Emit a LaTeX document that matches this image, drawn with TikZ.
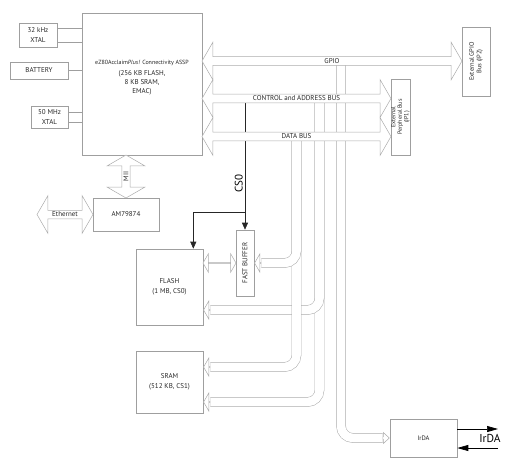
\documentclass[tikz,border=0pt]{standalone}
\usepackage{fontspec}
\setmainfont{PT Sans}
\usetikzlibrary{shapes.arrows,arrows.meta,positioning}

\begin{document}
\begin{tikzpicture}[x=1pt,y=-1pt,
  box/.style={draw=gray!75,line width=0.6pt,align=center,inner sep=0pt,
    text=black!85,font=\fontsize{7}{10}\selectfont},
  bus/.style={double arrow,draw=gray!65,fill=white,line width=0.5pt,inner sep=0pt,
    minimum width=38pt,double arrow head extend=9.5pt,double arrow tip angle=120,
    text=black!85,font=\fontsize{7}{8}\selectfont},
  link/.style={bus,minimum width=18.5pt,double arrow head extend=4.7pt},
  entry/.style={single arrow,draw=gray!65,fill=white,line width=0.5pt,inner sep=0pt,
    minimum width=18.5pt,minimum height=7pt,single arrow head extend=4.7pt,
    single arrow tip angle=120,anchor=tip,shape border rotate=180},
  irentry/.style={entry,minimum width=11pt,single arrow head extend=1pt,
    single arrow tip angle=85,shape border rotate=0},
  pipe/.style={draw=gray!65,double=white,double distance=8.6pt,line width=0.5pt,
    rounded corners=12pt,shorten >=-0.5pt},
  wire/.style={draw=gray!75,line width=0.6pt},
  csline/.style={draw=black!85,line width=0.6pt,-{Triangle[length=7pt,width=6pt]}},
  irline/.style={draw=black,line width=0.7pt,-{Triangle[length=11pt,width=6pt]}}]
  \useasboundingbox (0,0) rectangle (511,467);

  % processor and its inputs
  \node[box,minimum width=120pt,minimum height=142pt] (cpu) at (142,84) {};
  \node[align=center,text=black!85,font=\fontsize{7}{9}\selectfont] (cputext)
    at ([yshift=6pt]cpu.center)
    {{\fontsize{6}{8}\selectfont eZ80Acclaim\textit{Plus!} Connectivity ASSP}\\[2pt]
     (256 KB FLASH,\\8 KB SRAM,\\EMAC)};
  \node[box,minimum width=38pt,minimum height=24pt] (x32) at (38,35) {32 kHz\\XTAL};
  \node[box,minimum width=58pt,minimum height=17pt] (bat) at (39,70.5) {BATTERY};
  \node[box,minimum width=37pt,minimum height=22pt] (x50) at (49.5,117) {50 MHz\\XTAL};
  \draw[wire] ([yshift=7pt]x32.east) -- ([yshift=7pt]x32.east -| cpu.west);
  \draw[wire] ([yshift=-7pt]x32.east) -- ([yshift=-7pt]x32.east -| cpu.west);
  \draw[wire] (bat.east) -- (bat.east -| cpu.west);
  \draw[wire] ([yshift=5pt]x50.east) -- ([yshift=5pt]x50.east -| cpu.west);
  \draw[wire] ([yshift=-5pt]x50.east) -- ([yshift=-5pt]x50.east -| cpu.west);

  % ethernet
  \node[box,minimum width=66pt,minimum height=33pt] (phy) at (126,214.5) {AM79874};
  \node[bus,rotate=90,minimum height=43pt] (mii) at (126,176.5) {MII};
  \node[bus,minimum height=56pt] (eth) at (65,214.5) {Ethernet};

  % memories
  \node[box,minimum width=67pt,minimum height=76pt] (flash) at (169.5,287) {FLASH\\(1 MB, CS0)};
  \node[box,minimum width=67pt,minimum height=62pt] (sram) at (169.5,382) {SRAM\\(512 KB, CS1)};
  \node[box,minimum width=18pt,minimum height=66pt,
    label={[rotate=90,text=black!85,font=\fontsize{7}{8}\selectfont]center:FAST BUFFER}]
    (fbuf) at (245,263) {};
  \node[box,minimum width=67pt,minimum height=38pt,font=\fontsize{6.5}{8}\selectfont]
    (irda) at (423.5,438) {IrDA};
  \node[link,minimum height=33pt] (fblink) at (219.5,263) {};

  \node[entry] (fbin) at (fbuf.east) {};
  \node[entry] (flin) at ([yshift=-23pt]flash.east) {};
  \node[entry] (srhi) at ([yshift=15pt]sram.east) {};
  \node[entry] (srlo) at ([yshift=-20pt]sram.east) {};
  \node[irentry] (irin) at (irda.west) {};

  % drops from the buses
  \coordinate (gdrop) at (341,61);
  \coordinate (cdrop) at (319.5,98.5);
  \coordinate (ddrop) at (296.5,136.5);
  \coordinate (cs) at (245,98.5);
  \coordinate (csbend) at (245,212);
  \draw[pipe] (cdrop) |- (srlo.tail);
  \draw[pipe] (cdrop) |- (flin.tail);
  \draw[pipe] (ddrop) |- (srhi.tail);
  \draw[pipe] (ddrop) |- (fbin.tail);
  \draw[pipe] (gdrop) |- (irin.tail);
  \draw[csline] (cs) -- node[rotate=90,anchor=south,pos=0.65,inner sep=2pt,
    text=black,font=\fontsize{11}{13}\selectfont] (cslabel) {CS0} (fbuf.north);
  \draw[csline] (csbend) -| ([xshift=-10pt]flash.north east);

  % buses
  \node[bus,minimum height=260pt] (gpio) at (332,61) {GPIO};
  \node[bus,minimum height=189pt] (ctrl) at (296.5,98.5) {CONTROL and ADDRESS BUS};
  \node[bus,minimum height=189pt] (data) at (296.5,136.5) {DATA BUS};
  \node[box,minimum width=28pt,minimum height=69pt,
    label={[rotate=90,align=center,text=black!85,font=\fontsize{6.5}{7.5}\selectfont]center:External GPIO\\Bus (JP2)}]
    (extgpio) at (476,61.5) {};
  \node[box,minimum width=19pt,minimum height=76pt,
    label={[rotate=90,align=center,text=black!85,font=\fontsize{6}{6.5}\selectfont]center:External\\Perpheral Bus\\(JP1)}]
    (extper) at (400.5,117) {};

  % infrared port
  \coordinate (irtx) at (498,429);
  \coordinate (irrx) at (498,448);
  \draw[irline] (irda.east |- irtx) -- (irtx);
  \draw[irline] (irrx) -- (irda.east |- irrx);
  \node[font=\fontsize{11.5}{13}\selectfont] (irname) at (490,438) {IrDA};
\end{tikzpicture}
\end{document}
